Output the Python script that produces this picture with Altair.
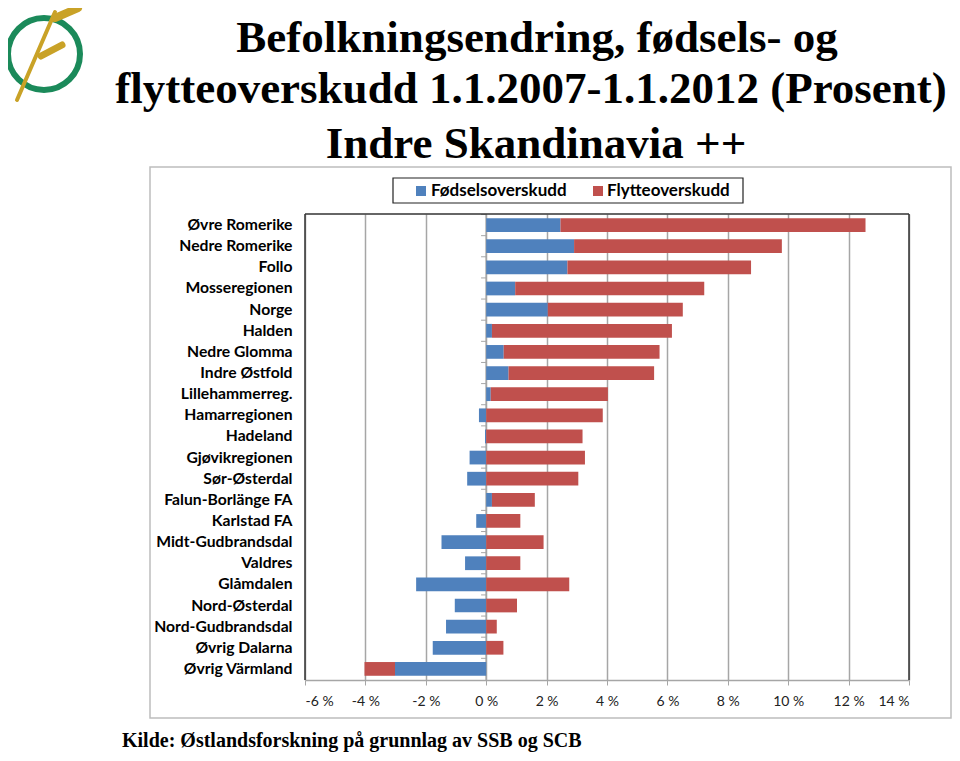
import altair as alt
import pandas as pd

regions = ["Øvre Romerike", "Nedre Romerike", "Follo", "Mosseregionen", "Norge", "Halden",
           "Nedre Glomma", "Indre Østfold", "Lillehammerreg.", "Hamarregionen", "Hadeland",
           "Gjøvikregionen", "Sør-Østerdal", "Falun-Borlänge FA", "Karlstad FA",
           "Midt-Gudbrandsdal", "Valdres", "Glåmdalen", "Nord-Østerdal", "Nord-Gudbrandsdal",
           "Øvrig Dalarna", "Øvrig Värmland"]
fodsel = [2.46, 2.91, 2.69, 0.96, 2.04, 0.19, 0.58, 0.74, 0.15, -0.24, -0.04,
          -0.55, -0.63, 0.19, -0.33, -1.48, -0.70, -2.32, -1.04, -1.33, -1.77, -3.02]
flytte = [10.10, 6.88, 6.08, 6.26, 4.47, 5.96, 5.16, 4.82, 3.88, 3.86, 3.19,
          3.27, 3.05, 1.42, 1.13, 1.90, 1.13, 2.75, 1.02, 0.35, 0.57, -1.01]
series = ["Fødselsoverskudd", "Flytteoverskudd"]
colors = ["#4F81BD", "#C0504D"]
x_ticks = [-6, -4, -2, 0, 2, 4, 6, 8, 10, 12, 14]

title_lines = ["Befolkningsendring, fødsels- og",
               "flytteoverskudd  1.1.2007-1.1.2012 (Prosent)",
               "Indre Skandinavia ++"]
source = "Kilde: Østlandsforskning på grunnlag av SSB og SCB"

rows = []
for i, r in enumerate(regions):
    rows.append({"region": r, "serie": series[0], "value": fodsel[i], "ord": 0})
    rows.append({"region": r, "serie": series[1], "value": flytte[i], "ord": 1})
df = pd.DataFrame(rows)

W, H = 604, 466
GRID = "#a6a6a6"
one = alt.Data(values=[{}])

bars = alt.Chart(df).mark_bar().encode(
    y=alt.Y("region:N", sort=regions,
            scale=alt.Scale(paddingInner=0.35, paddingOuter=0.2),
            axis=alt.Axis(title=None, domain=False, ticks=False, grid=False,
                          labelPadding=13, labelFont="Lato", labelFontSize=15.7,
                          labelFontWeight="bold", labelColor="black", labelLimit=300)),
    x=alt.X("value:Q", stack="zero",
            scale=alt.Scale(domain=[-6, 14], nice=False, zero=False),
            axis=alt.Axis(values=x_ticks, title=None, labelExpr="datum.value + ' %'",
                          grid=True, gridColor=GRID, gridWidth=1.5,
                          domainColor=GRID, domainWidth=1.5, tickColor=GRID, tickSize=5,
                          labelFont="Lato", labelFontSize=14, labelColor="#222",
                          labelPadding=9)),
    color=alt.Color("serie:N", scale=alt.Scale(domain=series, range=colors), legend=None),
    order=alt.Order("ord:Q"),
)

zero_line = alt.Chart(one).mark_rule(color=GRID, strokeWidth=1.5).encode(
    x=alt.datum(0), y=alt.value(0), y2=alt.value(H))

cat_ticks = alt.Chart(pd.DataFrame({"region": regions})).mark_rule(color=GRID, strokeWidth=1).encode(
    y=alt.Y("region:N", sort=regions, bandPosition=0),
    yOffset=alt.value(-3.7),
    x=alt.datum(0), x2=alt.datum(-0.17))

def rule(x, x2, y, y2, color, w, cap="butt"):
    return alt.Chart(one).mark_rule(color=color, strokeWidth=w, strokeCap=cap).encode(
        x=alt.value(x), x2=alt.value(x2), y=alt.value(y), y2=alt.value(y2))

border = [rule(0, 0, 0, H, "#333", 1.5), rule(W, W, 0, H, "#333", 1.5), rule(0, W, 0, 0, "#333", 1.5)]

frame = alt.Chart(one).mark_rect(fill="transparent", stroke="#bdbdbd", strokeWidth=1.5).encode(
    x=alt.value(-155), x2=alt.value(646), y=alt.value(-47), y2=alt.value(504))

legend_box = alt.Chart(one).mark_rect(fill="white", stroke="#222", strokeWidth=1.2).encode(
    x=alt.value(88), x2=alt.value(438), y=alt.value(-36), y2=alt.value(-11))

def square(x, y, c):
    return alt.Chart(one).mark_square(size=100, color=c, opacity=1).encode(
        x=alt.value(x), y=alt.value(y))

def txt(s, x, y, size, font, weight, align="center", baseline="alphabetic", color="black"):
    return alt.Chart(one).mark_text(text=s, fontSize=size, font=font, fontWeight=weight,
                                    align=align, baseline=baseline, color=color).encode(
        x=alt.value(x), y=alt.value(y))

legend_layers = [legend_box,
                 square(116, -23, colors[0]),
                 txt(series[0], 126, -23, 17, "Lato", "bold", "left", "middle"),
                 square(293, -23, colors[1]),
                 txt(series[1], 302, -23, 17, "Lato", "bold", "left", "middle")]

titles = [txt(title_lines[0], 232, -162, 45, "Liberation Serif", "bold"),
          txt(title_lines[1], 226, -111, 45, "Liberation Serif", "bold"),
          txt(title_lines[2], 231, -56, 45, "Liberation Serif", "bold")]

src = txt(source, -183, 533, 20, "Liberation Serif", "bold", "left")

ring = alt.Chart(one).mark_point(shape="circle", size=5184, filled=False,
                                 color="#1b8a5a", strokeWidth=6, opacity=1).encode(
    x=alt.value(-261), y=alt.value(-160))
logo = [ring,
        rule(-288, -250, -114, -202, "#c9a227", 4, "round"),
        rule(-250, -227, -196, -206, "#c9a227", 8, "round"),
        rule(-264, -243, -158, -169, "#c9a227", 7, "round")]

chart = alt.layer(
    frame, zero_line, cat_ticks, bars, *border, *legend_layers, *titles, src, *logo
).properties(
    width=W, height=H,
    autosize=alt.AutoSizeParams(type="none"),
    padding={"left": 297, "top": 206, "right": 43, "bottom": 73},
    background="white",
).configure_view(stroke=None)

chart.save("out.html", embed_options={"renderer": "svg", "actions": False})
